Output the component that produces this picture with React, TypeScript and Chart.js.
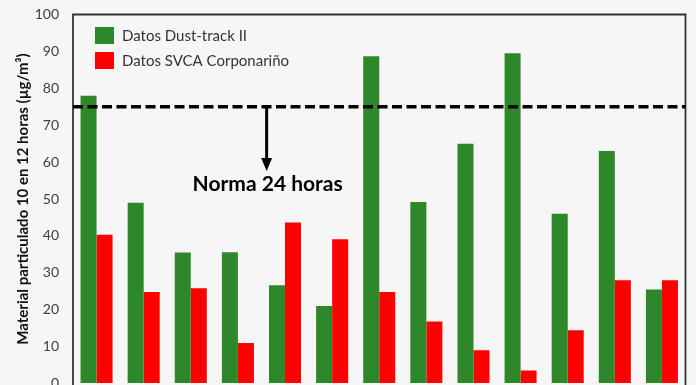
import React, { useEffect, useRef } from "react";
import { Chart, registerables } from "chart.js";

Chart.register(...registerables);

const categories = ["1", "2", "3", "4", "5", "6", "7", "8", "9", "10", "11", "12", "13"];
const dustTrack = [78, 49, 35.5, 35.6, 26.6, 21, 88.7, 49.2, 65, 89.5, 46, 63, 25.5];
const svca = [40.3, 24.8, 25.8, 11, 43.6, 39.1, 24.8, 16.8, 9, 3.5, 14.4, 28, 28];
const seriesNames = ["Datos Dust-track II", "Datos SVCA Corponariño"];
const seriesColors = ["#2E8829", "#FF0000"];
const yTicksMin = 0;
const yTicksMax = 100;
const yTickStep = 10;
const yTitle = "Material particulado 10 en 12 horas (µg/m³)";
const normValue = 75;
const normLabel = "Norma 24 horas";
const arrowIndex = 3.61;
const arrowEndValue = 57.6;
const normLabelValue = 54;

const FONT = "Lato, 'Open Sans', sans-serif";

const overlay = {
  id: "overlay",
  afterDraw(chart: any) {
    const { ctx, chartArea, scales } = chart;
    const { left, right, top, bottom } = chartArea;
    const x = scales.x;
    const y = scales.y;
    ctx.save();
    // frame
    ctx.strokeStyle = "#333333";
    ctx.lineWidth = 1.8;
    ctx.setLineDash([]);
    ctx.beginPath();
    ctx.moveTo(left, bottom + 30);
    ctx.lineTo(left, top);
    ctx.lineTo(right, top);
    ctx.lineTo(right, bottom + 30);
    ctx.stroke();
    // dashed norm line
    const yN = y.getPixelForValue(normValue);
    ctx.strokeStyle = "#000";
    ctx.lineWidth = 3.6;
    ctx.setLineDash([10, 4.5]);
    ctx.beginPath();
    ctx.moveTo(left, yN);
    ctx.lineTo(right, yN);
    ctx.stroke();
    ctx.setLineDash([]);
    // arrow
    const ax = x.getPixelForValue(arrowIndex);
    const aEnd = y.getPixelForValue(arrowEndValue);
    const headLen = 13;
    ctx.lineWidth = 3;
    ctx.beginPath();
    ctx.moveTo(ax, yN);
    ctx.lineTo(ax, aEnd - headLen + 1);
    ctx.stroke();
    ctx.fillStyle = "#000";
    ctx.beginPath();
    ctx.moveTo(ax - 5.5, aEnd - headLen);
    ctx.lineTo(ax + 5.5, aEnd - headLen);
    ctx.lineTo(ax, aEnd);
    ctx.closePath();
    ctx.fill();
    // label
    ctx.font = `bold 21px ${FONT}`;
    ctx.textAlign = "center";
    ctx.textBaseline = "middle";
    ctx.fillText(normLabel, ax + 1, y.getPixelForValue(normLabelValue));
    // legend
    const lx = left + 22;
    const ly = top + 12.5;
    ctx.font = `15px ${FONT}`;
    ctx.textAlign = "left";
    seriesNames.forEach((name, i) => {
      const by = ly + i * 25;
      ctx.fillStyle = seriesColors[i];
      ctx.fillRect(lx, by, 19, 17);
      ctx.fillStyle = "#333";
      ctx.fillText(name, lx + 27, by + 9);
    });
    ctx.restore();
  },
};

export default function App() {
  const ref = useRef<HTMLCanvasElement>(null);
  useEffect(() => {
    if (!ref.current) return;
    const chart = new Chart(ref.current, {
      type: "bar",
      data: {
        labels: categories,
        datasets: [
          { label: seriesNames[0], data: dustTrack, backgroundColor: seriesColors[0], barPercentage: 1, categoryPercentage: 0.68 },
          { label: seriesNames[1], data: svca, backgroundColor: seriesColors[1], barPercentage: 1, categoryPercentage: 0.68 },
        ],
      },
      options: {
        animation: false,
        responsive: false,
        maintainAspectRatio: false,
        layout: { padding: { left: 0, right: 10.5, top: 14.5, bottom: 26.5 } },
        plugins: { legend: { display: false }, tooltip: { enabled: false } },
        scales: {
          x: { display: false, offset: true },
          y: {
            min: yTicksMin,
            max: yTicksMax,
            ticks: { stepSize: yTickStep, color: "#404040", font: { family: FONT, size: 14 }, padding: 4 },
            grid: { display: true, drawOnChartArea: false, drawTicks: true, tickLength: 10, tickColor: "rgba(0,0,0,0)", color: "rgba(0,0,0,0)" },
            border: { display: false },
            title: { display: true, text: yTitle, color: "#111", font: { family: FONT, size: 15, weight: "bold" }, padding: { top: 14, bottom: 0 } },
            afterFit(scale: any) {
              scale.width = 73;
            },
          },
        },
      },
      plugins: [overlay],
    });
    return () => chart.destroy();
  }, []);
  return (
    <div style={{ position: "fixed", left: 0, top: 0, width: 696, height: 410, background: "#f6f6f6" }}>
      <canvas ref={ref} width={696} height={410} style={{ display: "block", width: 696, height: 410 }} />
    </div>
  );
}
